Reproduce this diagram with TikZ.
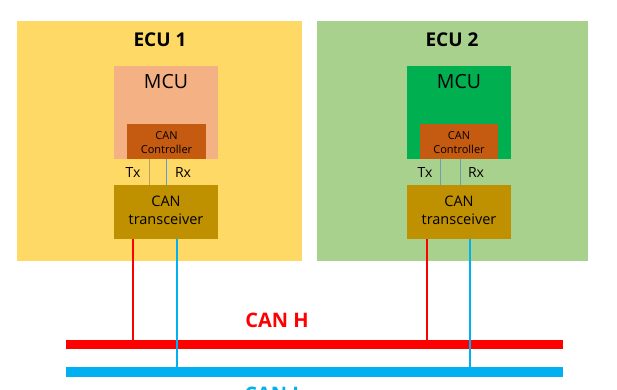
\documentclass[tikz,border=0pt]{standalone}
\usepackage{fontspec}
\setmainfont{Open Sans}
\definecolor{ecuA}{HTML}{FFD966}
\definecolor{ecuB}{HTML}{A9D18E}
\definecolor{mcuA}{HTML}{F4B183}
\definecolor{mcuB}{HTML}{00B050}
\definecolor{ctrl}{HTML}{C55A11}
\definecolor{xcvr}{HTML}{BF9000}
\definecolor{canh}{HTML}{FF0000}
\definecolor{canl}{HTML}{00B0F0}
\definecolor{txA}{HTML}{B8A060}
\definecolor{rxA}{HTML}{5B9BD5}
\definecolor{lnB}{HTML}{6FA0B0}
\tikzset{
  lbl/.style={inner sep=0pt, font=\fontsize{14}{15}\selectfont},
  ecutitle/.style={lbl, font=\bfseries\fontsize{19}{21}\selectfont},
  mcutext/.style={lbl, font=\fontsize{19.5}{21}\selectfont},
  ctrltext/.style={lbl, font=\fontsize{11}{14}\selectfont, align=center},
  xcvrtext/.style={lbl, font=\fontsize{14.5}{18}\selectfont, align=center},
  bustext/.style={lbl, font=\bfseries\fontsize{20}{22}\selectfont},
}
\begin{document}
\begin{tikzpicture}[x=1pt,y=-1pt]
\useasboundingbox (0,0) rectangle (617,389);
\clip (0,0) rectangle (617,389);
% ECU boxes
\fill[ecuA] (17,21) rectangle (302,261);
\fill[ecuB] (317,21) rectangle (588,261);
\node[ecutitle] (e1) at (160,40) {ECU 1};
\node[ecutitle] (e2) at (452,40) {ECU 2};
% ECU 1 internals
\fill[mcuA] (114,66) rectangle (218,159);
\node[mcutext] (m1) at (166,82) {MCU};
\fill[ctrl] (127,124) rectangle (206,159);
\node[ctrltext] (c1) at (166.5,143) {CAN\\Controller};
\fill[xcvr] (114,185) rectangle (218,239);
\node[xcvrtext] (t1) at (166,210) {CAN\\transceiver};
\coordinate (c1tx) at (149,159); \coordinate (t1tx) at (149,185);
\coordinate (c1rx) at (166,159); \coordinate (t1rx) at (166,185);
\draw[txA, line width=0.8pt] (c1tx) -- (t1tx);
\draw[rxA, line width=0.8pt] (c1rx) -- (t1rx);
\node[lbl] (tx1) at (133,172) {Tx};
\node[lbl] (rx1) at (183,172) {Rx};
% ECU 2 internals
\fill[mcuB] (407,66) rectangle (511,159);
\node[mcutext] (m2) at (459,82) {MCU};
\fill[ctrl] (420,124) rectangle (498,159);
\node[ctrltext] (c2) at (459,143) {CAN\\Controller};
\fill[xcvr] (407,185) rectangle (511,239);
\node[xcvrtext] (t2) at (459,210) {CAN\\transceiver};
\coordinate (c2tx) at (440,159); \coordinate (t2tx) at (440,185);
\coordinate (c2rx) at (460,159); \coordinate (t2rx) at (460,185);
\draw[lnB, line width=0.8pt] (c2tx) -- (t2tx);
\draw[lnB, line width=0.8pt] (c2rx) -- (t2rx);
\node[lbl] (tx2) at (425,172) {Tx};
\node[lbl] (rx2) at (476,172) {Rx};
% Buses
\coordinate (hL) at (66,344); \coordinate (hR) at (563,344);
\coordinate (lL) at (66,372); \coordinate (lR) at (563,372);
\draw[canh, line width=9pt] (hL) -- (hR);
\draw[canl, line width=10pt] (lL) -- (lR);
% drops
\coordinate (d1h) at (133,239); \coordinate (b1h) at (133,344);
\coordinate (d1l) at (177,239); \coordinate (b1l) at (177,372);
\coordinate (d2h) at (427,239); \coordinate (b2h) at (427,344);
\coordinate (d2l) at (470,239); \coordinate (b2l) at (470,372);
\draw[canh, line width=1.3pt] (d1h) -- (b1h);
\draw[canh, line width=1.3pt] (d2h) -- (b2h);
\draw[canl, line width=1.3pt] (d1l) -- (b1l);
\draw[canl, line width=1.3pt] (d2l) -- (b2l);
% labels
\node[bustext, text=canh] (lh) at (277,320) {CAN H};
\node[bustext, text=canl, anchor=north] (ll) at (274,386.5) {CAN L};
\end{tikzpicture}
\end{document}
